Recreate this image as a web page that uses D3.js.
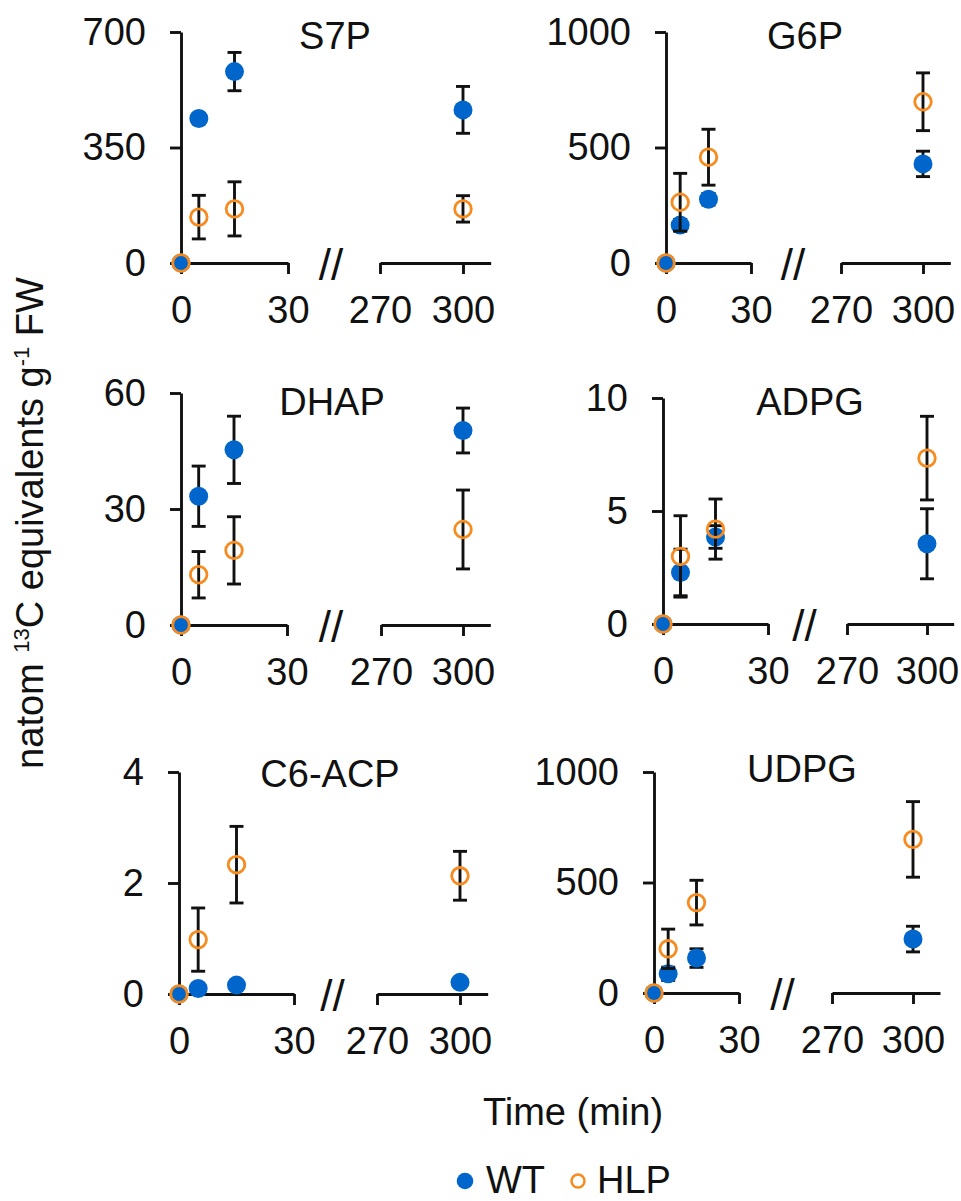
<!DOCTYPE html>
<html>
<head>
<meta charset="utf-8">
<script src="https://cdn.jsdelivr.net/npm/d3@7"></script>
<style>
  body { margin: 0; background: #fff; }
  svg text { font-family: "Liberation Sans", Arial, sans-serif; fill: #111; }
</style>
</head>
<body>
<svg id="chart" width="961" height="1201"></svg>
<script>
// time points (min)
const times = [0, 5, 15, 300];
const metabolites = ['S7P', 'G6P', 'DHAP', 'ADPG', 'C6-ACP', 'UDPG'];
const yMax = [700, 1000, 60, 10, 4, 1000];

// means and errors, one row per metabolite, one value per time point
const wtMean = [
  [0, 438, 580, 464],
  [0, 164, 276, 429],
  [0, 33.3, 45.3, 50.3],
  [0, 2.28, 3.85, 3.55],
  [0, 0.10, 0.16, 0.21],
  [0, 87, 158, 244]
];
const wtErr = [
  [0, 15, 58, 71],
  [0, 25, 25, 55],
  [0, 7.8, 8.7, 5.8],
  [0, 1.03, 0.5, 1.55],
  [0, 0.05, 0.05, 0.06],
  [0, 30, 42, 58]
];
const hlpMean = [
  [0, 139, 164, 164],
  [0, 263, 458, 698],
  [0, 13.0, 19.3, 24.7],
  [0, 2.99, 4.2, 7.34],
  [0, 0.98, 2.33, 2.13],
  [0, 200, 409, 695]
];
const hlpErr = [
  [0, 66, 82, 40],
  [0, 125, 121, 125],
  [0, 6.0, 8.7, 10.2],
  [0, 1.8, 1.33, 1.85],
  [0, 0.57, 0.69, 0.44],
  [0, 89, 101, 171]
];

const WT_COLOR = '#0066cc';
const HLP_COLOR = '#f68b1f';
const FONT = 38;

// pixel layout of each small panel (x of 0 / 30 min, x of 270 / 300 min, y range, title)
const layout = [
  { x0: 181, x30: 288, r270: 380, r300: 463, yTop: 32,  yZero: 263, tx: 335, ty: 49 },
  { x0: 666, x30: 751, r270: 841, r300: 923, yTop: 32,  yZero: 263, tx: 805, ty: 49 },
  { x0: 181, x30: 287, r270: 381, r300: 463, yTop: 393, yZero: 625, tx: 332, ty: 415 },
  { x0: 663, x30: 768, r270: 847, r300: 927, yTop: 398, yZero: 624, tx: 810, ty: 415 },
  { x0: 179, x30: 294, r270: 377, r300: 460, yTop: 772, yZero: 994, tx: 330, ty: 787 },
  { x0: 654, x30: 739, r270: 832, r300: 913, yTop: 772, yZero: 993, tx: 802, ty: 782 }
];

const svg = d3.select('#chart');

function styleAxis(sel) {
  sel.selectAll('path, line').attr('stroke', '#111').attr('stroke-width', 2.9);
  sel.selectAll('text').attr('font-size', FONT).attr('font-family', '"Liberation Sans", Arial, sans-serif').attr('fill', '#111');
  sel.attr('font-size', FONT);
}

metabolites.forEach((name, i) => {
  const L = layout[i];
  const g = svg.append('g');

  const y = d3.scaleLinear().domain([0, yMax[i]]).range([L.yZero, L.yTop]);
  const xl = d3.scaleLinear().domain([0, 30]).range([L.x0, L.x30]);
  const xr = d3.scaleLinear().domain([270, 300]).range([L.r270, L.r300]);
  const xOf = t => (t >= 270 ? xr(t) : xl(t));

  // left x segment
  g.append('g')
    .attr('transform', `translate(0,${L.yZero})`)
    .call(d3.axisBottom(xl).tickValues([0, 30]).tickSize(11).tickSizeOuter(0).tickPadding(22))
    .call(styleAxis);

  // right x segment, runs a little past 300
  const xrAxis = d3.scaleLinear().domain([270, 310]).range([xr(270), xr(310)]);
  g.append('g')
    .attr('transform', `translate(0,${L.yZero})`)
    .call(d3.axisBottom(xrAxis).tickValues([270, 300]).tickSize(11).tickSizeOuter(0).tickPadding(22))
    .call(styleAxis);

  // y axis
  g.append('g')
    .attr('transform', `translate(${L.x0},0)`)
    .call(d3.axisLeft(y).tickValues([0, yMax[i] / 2, yMax[i]]).tickFormat(d3.format('d'))
      .tickSize(11).tickSizeOuter(0).tickPadding(24))
    .call(styleAxis);

  // break mark
  g.append('text')
    .attr('x', (xl(30) + xr(270)) / 2 - 3)
    .attr('y', L.yZero + 17)
    .attr('text-anchor', 'middle')
    .attr('font-size', 44)
    .text('//');

  // title
  g.append('text')
    .attr('x', L.tx)
    .attr('y', L.ty)
    .attr('text-anchor', 'middle')
    .attr('font-size', FONT)
    .text(name);

  const series = [
    { mean: wtMean[i], err: wtErr[i], filled: true },
    { mean: hlpMean[i], err: hlpErr[i], filled: false }
  ];

  series.forEach(s => {
    const pts = times.map((t, k) => ({ t, m: s.mean[k], e: s.err[k] }));
    const bars = g.append('g').attr('stroke', '#111').attr('stroke-width', 2.9);
    pts.filter(d => d.e > 0).forEach(d => {
      const cx = xOf(d.t);
      bars.append('line').attr('x1', cx).attr('x2', cx).attr('y1', y(d.m - d.e)).attr('y2', y(d.m + d.e));
      bars.append('line').attr('x1', cx - 7).attr('x2', cx + 7).attr('y1', y(d.m - d.e)).attr('y2', y(d.m - d.e));
      bars.append('line').attr('x1', cx - 7).attr('x2', cx + 7).attr('y1', y(d.m + d.e)).attr('y2', y(d.m + d.e));
    });
    g.append('g').selectAll('circle')
      .data(pts)
      .enter()
      .append('circle')
      .attr('cx', d => xOf(d.t))
      .attr('cy', d => y(d.m))
      .attr('r', s.filled ? 9.5 : 8.3)
      .attr('fill', s.filled ? WT_COLOR : 'none')
      .attr('stroke', s.filled ? 'none' : HLP_COLOR)
      .attr('stroke-width', 2.8);
  });
});

// y axis title
const yLab = svg.append('text')
  .attr('transform', 'translate(43,523) rotate(-90)')
  .attr('text-anchor', 'middle')
  .attr('font-size', FONT);
yLab.append('tspan').text('natom ');
yLab.append('tspan').attr('font-size', 22).attr('dy', -14).text('13');
yLab.append('tspan').attr('dy', 14).text('C equivalents g');
yLab.append('tspan').attr('font-size', 22).attr('dy', -14).text('-1');
yLab.append('tspan').attr('dy', 14).text(' FW');

// x axis title
svg.append('text')
  .attr('x', 573)
  .attr('y', 1125)
  .attr('text-anchor', 'middle')
  .attr('font-size', FONT)
  .text('Time (min)');

// legend
const legend = svg.append('g');
legend.append('circle').attr('cx', 465).attr('cy', 1181).attr('r', 8.3).attr('fill', WT_COLOR);
legend.append('text').attr('x', 486).attr('y', 1193).attr('font-size', FONT).text('WT');
legend.append('circle').attr('cx', 578).attr('cy', 1181).attr('r', 6.5)
  .attr('fill', 'none').attr('stroke', HLP_COLOR).attr('stroke-width', 2.5);
legend.append('text').attr('x', 597).attr('y', 1193).attr('font-size', FONT).text('HLP');
</script>
</body>
</html>
